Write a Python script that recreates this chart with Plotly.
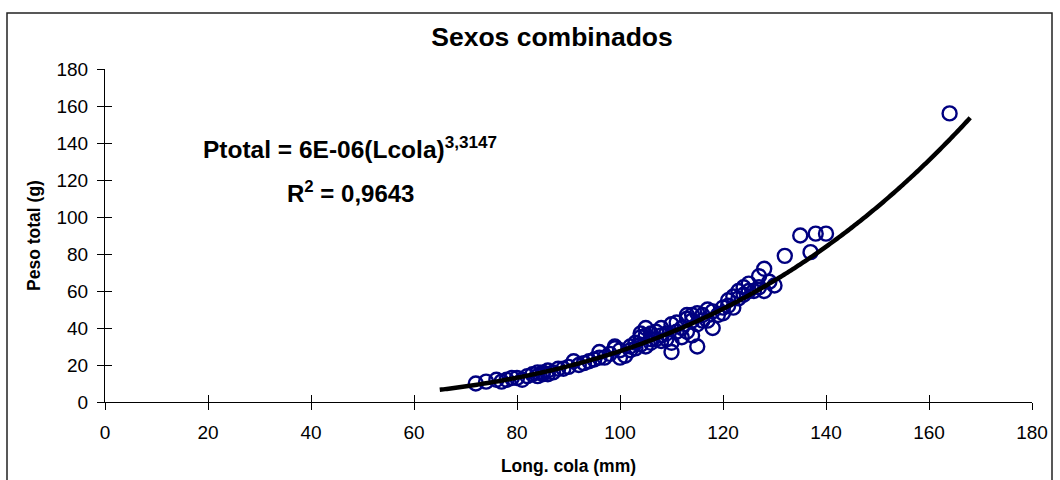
import numpy as np
import plotly.graph_objects as go

# Observed data: tail length (mm) and total weight (g)
length_mm = [72, 74, 76, 77, 78, 79, 80, 81, 82, 83, 84, 84, 85, 85, 86, 86, 87, 88, 89, 90,
             91, 92, 93, 94, 95, 96, 96, 97, 98, 99, 99, 100, 100, 101, 102, 102, 103, 103,
             104, 104, 104, 105, 105, 105, 106, 106, 106, 107, 107, 108, 108, 108, 109, 109,
             110, 110, 110, 111, 111, 112, 112, 113, 113, 113, 114, 114, 114, 115, 115, 115,
             116, 116, 117, 117, 118, 118, 119, 120, 120, 121, 121, 122, 122, 123, 123, 124,
             124, 125, 125, 126, 127, 127, 128, 128, 129, 130, 132, 135, 137, 138, 140, 164]
weight_g = [10, 11, 12, 11, 12, 13, 13, 12, 14, 15, 16, 14, 16, 15, 17, 15, 16, 18, 18, 19,
            22, 20, 21, 22, 23, 27, 24, 24, 26, 29, 30, 28, 24, 25, 28, 30, 32, 29,
            35, 31, 37, 36, 30, 40, 37, 32, 34, 38, 34, 33, 40, 36, 37, 34,
            42, 27, 32, 38, 43, 35, 40, 45, 38, 47, 47, 44, 36, 30, 48, 42,
            47, 44, 50, 44, 40, 49, 47, 51, 48, 52, 55, 57, 51, 56, 60, 58,
            62, 64, 60, 60, 68, 62, 72, 60, 65, 63, 79, 90, 81, 91, 91, 156]

# Power trendline (Excel fit): Ptotal = a * Lcola^b
trend_a = 6.46e-06
trend_b = 3.3147
trend_range = [65, 168]

x_ticks = [0, 20, 40, 60, 80, 100, 120, 140, 160, 180]
y_ticks = [0, 20, 40, 60, 80, 100, 120, 140, 160, 180]

title_text = "Sexos combinados"
x_title = "Long. cola (mm)"
y_title = "Peso total (g)"
eq_text = "Ptotal = 6E-06(Lcola)<sup>3,3147</sup>"
r2_text = "R<sup>2</sup> = 0,9643"

FONT = "Arial, Liberation Sans, sans-serif"

trend_x = np.linspace(trend_range[0], trend_range[1], 300)
trend_y = trend_a * trend_x ** trend_b

fig = go.Figure()
fig.add_trace(go.Scatter(
    x=length_mm, y=weight_g, mode="markers",
    marker=dict(symbol="circle-open", size=14, color="#000080",
                line=dict(width=2.4, color="#000080")),
    showlegend=False, hoverinfo="x+y"))
fig.add_trace(go.Scatter(
    x=trend_x, y=trend_y, mode="lines",
    line=dict(color="black", width=4.5, simplify=False), showlegend=False, hoverinfo="skip"))
# invisible trace to anchor the overlay axes (for crossing tick marks)
fig.add_trace(go.Scatter(x=[0], y=[0], xaxis="x2", yaxis="y2", mode="markers",
                         marker=dict(opacity=0), showlegend=False, hoverinfo="skip"))

tick_common = dict(showgrid=False, zeroline=False, tickcolor="black", ticklen=7, tickwidth=1,
                   automargin=False)

fig.update_layout(
    width=1060, height=480,
    margin=dict(l=105, r=28, t=69, b=78, autoexpand=False),
    paper_bgcolor="white", plot_bgcolor="white",
    font=dict(family=FONT, size=19, color="black"),
    title=dict(text="<b>" + title_text + "</b>", x=552 / 1060, xref="container", xanchor="center",
               y=1 - 37 / 480, yanchor="middle", font=dict(size=26.5, family=FONT)),
    xaxis=dict(range=[0, 180], tickvals=x_ticks, ticks="outside", showline=True,
               linecolor="black", linewidth=1, ticklabelstandoff=6, **tick_common,
               title=dict(text="<b>" + x_title + "</b>", standoff=17,
                          font=dict(size=17.5, family=FONT)),
               tickfont=dict(size=19, family=FONT)),
    yaxis=dict(range=[0, 180], tickvals=y_ticks, ticks="outside", showline=True,
               linecolor="black", linewidth=1, ticklabelstandoff=5, **tick_common,
               title=dict(text="<b>" + y_title + "</b>", standoff=11,
                          font=dict(size=17.5, family=FONT)),
               tickfont=dict(size=19, family=FONT)),
    xaxis2=dict(range=[0, 180], tickvals=x_ticks, ticks="inside", overlaying="x",
                side="bottom", showticklabels=False, anchor="y", showline=False, **tick_common),
    yaxis2=dict(range=[0, 180], tickvals=y_ticks, ticks="inside", overlaying="y",
                side="left", showticklabels=False, anchor="x", showline=False, **tick_common),
)

fig.add_annotation(xref="x", yref="y", x=47.6, y=137.5, text="<b>" + eq_text + "</b>",
                   showarrow=False, xanchor="center", yanchor="middle",
                   font=dict(size=24.5, family=FONT))
fig.add_annotation(xref="x", yref="y", x=47.6, y=113.5, text="<b>" + r2_text + "</b>",
                   showarrow=False, xanchor="center", yanchor="middle",
                   font=dict(size=24, family=FONT))

# outer chart border
fig.add_shape(type="rect", xref="paper", yref="paper",
              x0=(7 - 105) / 927, x1=(1052 - 105) / 927,
              y0=(402 - 490) / 333, y1=(402 - 13) / 333,
              line=dict(color="#222222", width=1.5), fillcolor="rgba(0,0,0,0)", layer="below")

fig.write_html("out.html")
